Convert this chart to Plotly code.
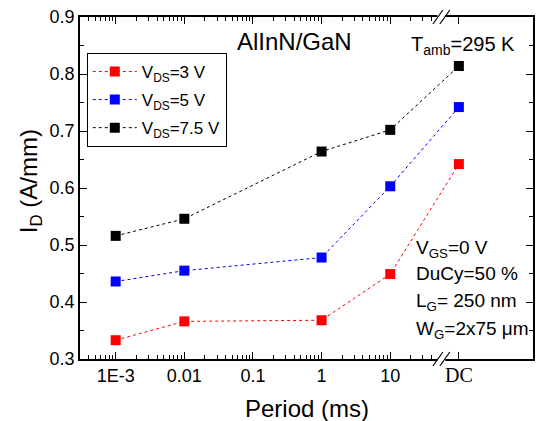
import math
import plotly.graph_objects as go

# ---- data ----
period_labels = ["1E-3", "0.01", "0.1", "1", "10", "DC"]
period_ticks = [1e-3, 1e-2, 1e-1, 1, 10, 100]   # DC plotted at the "100" slot
period_ms = [1e-3, 1e-2, 1, 10, 100]             # last point = DC
id_vds3 = [0.333, 0.366, 0.368, 0.449, 0.642]
id_vds5 = [0.436, 0.455, 0.478, 0.603, 0.742]
id_vds75 = [0.516, 0.546, 0.664, 0.702, 0.814]
series_names = ["V<sub>DS</sub>=3 V", "V<sub>DS</sub>=5 V", "V<sub>DS</sub>=7.5 V"]
series_values = [id_vds3, id_vds5, id_vds75]
series_colors = ["#FF0000", "#0000FF", "#000000"]

XMIN, XMAX = -3.52, 3.08   # log10 range
BREAK = 1.745              # log10 position of axis break

fig = go.Figure()
for i, (name, ys, col) in enumerate(zip(series_names, series_values, series_colors)):
    fig.add_trace(go.Scatter(
        x=period_ms, y=ys, name=name, mode="lines+markers", legendgroup=f"g{i}",
        line=dict(color=col, width=1, dash="dot"),
        marker=dict(symbol="square", size=10, color=col, line=dict(width=0)),
    ))

minor_vals = []
for dec in range(-4, 2):
    for m in range(2, 10):
        v = m * 10 ** dec
        if XMIN < math.log10(v) < BREAK - 0.05:
            minor_vals.append(v)

font = "Liberation Sans, Arial, sans-serif"
ticktext = period_labels[:-1] + [
    '<span style="font-family:Liberation Serif, Times New Roman, serif;font-size:20px">'
    + period_labels[-1] + '</span>']

fig.update_layout(
    width=537, height=421,
    margin=dict(l=80, r=2, t=17, b=62),
    plot_bgcolor="white", paper_bgcolor="white",
    font=dict(family=font, size=18, color="black"),
    showlegend=True,
    legend=dict(x=0.015, y=0.895, xanchor="left", yanchor="top",
                bordercolor="black", borderwidth=1, bgcolor="white",
                font=dict(size=17, family=font), tracegroupgap=3, itemwidth=44),
    xaxis=dict(
        type="log", range=[XMIN, XMAX],
        tickmode="array", tickvals=period_ticks, ticktext=ticktext,
        ticks="inside", ticklen=7, tickwidth=1.2, tickcolor="black",
        showline=True, linecolor="black", linewidth=1.5, mirror="ticks",
        showgrid=False, zeroline=False,
        minor=dict(tickmode="array", tickvals=minor_vals, ticks="inside",
                   ticklen=4, tickwidth=1.2, tickcolor="black", showgrid=False),
    ),
    yaxis=dict(
        range=[0.3, 0.9], dtick=0.1, tick0=0.3, tickformat=".1f",
        ticks="inside", ticklen=7, tickwidth=1.2, tickcolor="black",
        showline=True, linecolor="black", linewidth=1.5, mirror="ticks",
        showgrid=False, zeroline=False,
        minor=dict(dtick=0.05, ticks="inside", ticklen=4, tickwidth=1.2,
                   tickcolor="black", showgrid=False),
    ),
)

pw, ph = 455.0, 342.0

def px2paper(x, y):
    return (x - 80) / pw, (359 - y) / ph

# axis break marks (bottom and top)
bx = (BREAK - XMIN) / (XMAX - XMIN)
for yb in (0.0, 1.0):
    fig.add_shape(type="rect", xref="paper", yref="paper",
                  x0=bx - 4 / pw, x1=bx + 4 / pw, y0=yb - 2 / ph, y1=yb + 2 / ph,
                  fillcolor="white", line=dict(width=0), layer="above")
    for off in (-3.5, 3.5):
        fig.add_shape(type="line", xref="paper", yref="paper",
                      x0=bx + (off - 5) / pw, y0=yb - 7 / ph,
                      x1=bx + (off + 5) / pw, y1=yb + 7 / ph,
                      line=dict(color="black", width=1.2), layer="above")

# axis titles
tx, ty = px2paper(308, 408)
fig.add_annotation(text="Period (ms)", x=tx, y=ty, xref="paper", yref="paper",
                   xanchor="center", yanchor="middle", showarrow=False,
                   font=dict(size=24, family=font))
tx, ty = px2paper(30, 181)
fig.add_annotation(text="I<sub>D</sub> (A/mm)", x=tx, y=ty, xref="paper", yref="paper",
                   xanchor="center", yanchor="middle", showarrow=False, textangle=-90,
                   font=dict(size=24, family=font))

ann = [
    ("AlInN/GaN", 236, 42, 24),
    ("T<sub>amb</sub>=295 K", 410, 46, 20),
    ("V<sub>GS</sub>=0 V", 415, 249, 19),
    ("DuCy=50 %", 415, 273, 19),
    ("L<sub>G</sub>= 250 nm", 415, 302, 19),
    ("W<sub>G</sub>=2x75 μm", 415, 330, 19),
]
for t, x, y, s in ann:
    ax_, ay_ = px2paper(x, y)
    fig.add_annotation(text=t, x=ax_, y=ay_, xref="paper", yref="paper",
                       xanchor="left", yanchor="middle", showarrow=False,
                       font=dict(size=s, family=font, color="black"))

fig.write_html("out.html", config={"displayModeBar": False},
               post_script="document.body.style.margin='0px';")
